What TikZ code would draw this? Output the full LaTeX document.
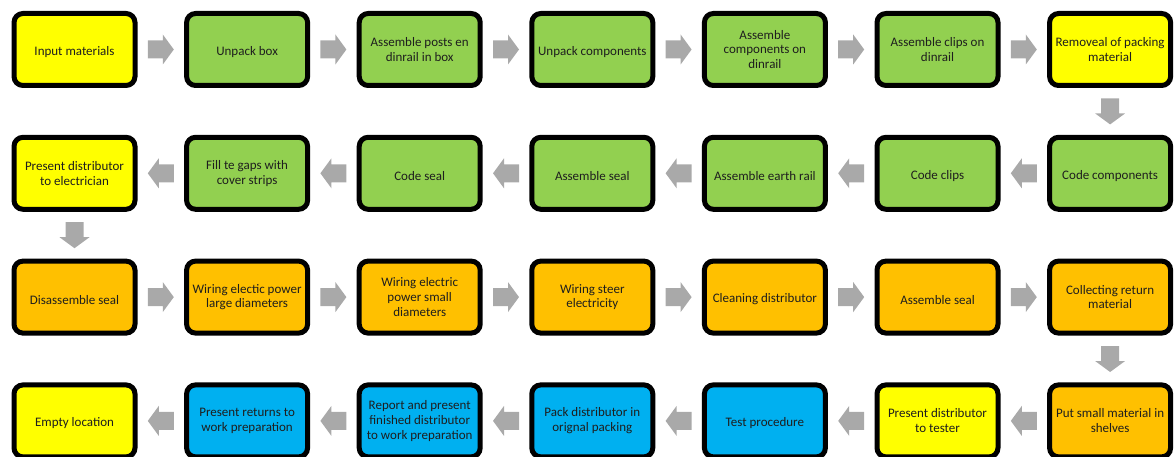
\documentclass[tikz,border=0pt]{standalone}
\usepackage{fontspec}
\setmainfont{Carlito}
\definecolor{cyel}{HTML}{FFFF00}
\definecolor{cgrn}{HTML}{92D050}
\definecolor{corg}{HTML}{FFC000}
\definecolor{cblu}{HTML}{00B0F0}
\definecolor{carr}{HTML}{A9A9A9}
\definecolor{ctxt}{HTML}{1E1E1E}
\begin{document}
\begin{tikzpicture}[x=1pt,y=1pt,
  procbox/.style={draw=black, line width=5pt, rounded corners=9pt,
    minimum width=121pt, minimum height=72pt, inner sep=2pt,
    align=center, text=ctxt, font=\fontsize{13}{14.8}\selectfont,
    execute at begin node={\rule{0pt}{14pt}}},
  yb/.style={procbox, fill=cyel},
  gb/.style={procbox, fill=cgrn},
  ob/.style={procbox, fill=corg},
  bb/.style={procbox, fill=cblu},
  blk/.pic={\fill[carr] (-13,-9) -- (2,-9) -- (2,-15) -- (13,0) -- (2,15) -- (2,9) -- (-13,9) -- cycle;}
]
\useasboundingbox (0,0) rectangle (1174,-457);
\def\cx#1{74.5+172.6*#1}
\def\ry#1{-49.5-123.8*#1}
% row 1
\node[yb] (a1) at ({\cx0},{\ry0}) {Input materials};
\node[gb] (a2) at ({\cx1},{\ry0}) {Unpack box};
\node[gb] (a3) at ({\cx2},{\ry0}) {Assemble posts en\\dinrail in box};
\node[gb] (a4) at ({\cx3},{\ry0}) {Unpack components};
\node[gb] (a5) at ({\cx4},{\ry0}) {Assemble\\components on\\dinrail};
\node[gb] (a6) at ({\cx5},{\ry0}) {Assemble clips on\\dinrail};
\node[yb] (a7) at ({\cx6},{\ry0}) {Removeal of packing\\material};
% row 2
\node[gb] (b7) at ({\cx6},{\ry1}) {Code components};
\node[gb] (b6) at ({\cx5},{\ry1}) {Code clips};
\node[gb] (b5) at ({\cx4},{\ry1}) {Assemble earth rail};
\node[gb] (b4) at ({\cx3},{\ry1}) {Assemble seal};
\node[gb] (b3) at ({\cx2},{\ry1}) {Code seal};
\node[gb] (b2) at ({\cx1},{\ry1}) {Fill te gaps with\\cover strips};
\node[yb] (b1) at ({\cx0},{\ry1}) {Present distributor\\to electrician};
% row 3
\node[ob] (c1) at ({\cx0},{\ry2}) {Disassemble seal};
\node[ob] (c2) at ({\cx1},{\ry2}) {Wiring electic power\\large diameters};
\node[ob] (c3) at ({\cx2},{\ry2}) {Wiring electric\\power small\\diameters};
\node[ob] (c4) at ({\cx3},{\ry2}) {Wiring steer\\electricity};
\node[ob] (c5) at ({\cx4},{\ry2}) {Cleaning distributor};
\node[ob] (c6) at ({\cx5},{\ry2}) {Assemble seal};
\node[ob] (c7) at ({\cx6},{\ry2}) {Collecting return\\material};
% row 4
\node[ob] (d7) at ({\cx6},{\ry3}) {Put small material in\\shelves};
\node[yb] (d6) at ({\cx5},{\ry3}) {Present distributor\\to tester};
\node[bb] (d5) at ({\cx4},{\ry3}) {Test procedure};
\node[bb] (d4) at ({\cx3},{\ry3}) {Pack distributor in\\orignal packing};
\node[bb] (d3) at ({\cx2},{\ry3}) {Report and present\\finished distributor\\to work preparation};
\node[bb] (d2) at ({\cx1},{\ry3}) {Present returns to\\work preparation};
\node[yb] (d1) at ({\cx0},{\ry3}) {Empty location};
% arrows
\foreach \p/\q in {a1/a2,a2/a3,a3/a4,a4/a5,a5/a6,a6/a7,a7/b7,
  b7/b6,b6/b5,b5/b4,b4/b3,b3/b2,b2/b1,b1/c1,
  c1/c2,c2/c3,c3/c4,c4/c5,c5/c6,c6/c7,c7/d7,
  d7/d6,d6/d5,d5/d4,d4/d3,d3/d2,d2/d1}
  \path (\p.center) -- (\q.center) pic[pos=0.5, sloped, allow upside down]{blk};
\end{tikzpicture}
\end{document}
